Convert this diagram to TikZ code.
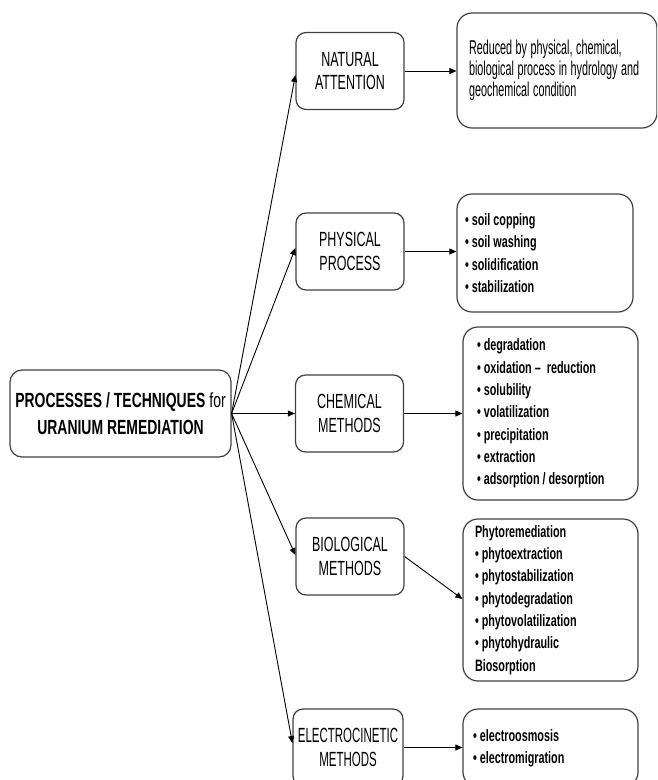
\documentclass[tikz,border=0pt]{standalone}
\usepackage{fontspec}
\usetikzlibrary{arrows.meta}
\setmainfont{Liberation Sans}
\newfontfamily\headfont[FakeStretch=0.68]{Liberation Sans}
\newfontfamily\stepfont[FakeStretch=0.61]{Liberation Sans}
\newfontfamily\narrowfont[FakeStretch=0.56]{Liberation Sans}
\newfontfamily\notefont[FakeStretch=0.54]{Liberation Sans}
\newfontfamily\listfont[FakeStretch=0.655]{Liberation Sans}
\definecolor{boxgray}{gray}{0.25}
\newcommand{\bu}{\textbullet\ }
\newcommand{\gap}[1]{\spaceskip=#1 plus 0.5pt minus 0.5pt\xspaceskip=#1\relax}

\begin{document}
\begin{tikzpicture}[x=1pt,y=-1pt,
  mainbox/.style={draw=boxgray,line width=1.2pt,rounded corners=12pt,align=center,
    minimum width=221pt,minimum height=87pt,inner sep=1pt,
    font=\headfont\fontsize{20.5}{26.7}\selectfont\gap{4pt}},
  stepbox/.style={draw=boxgray,line width=1.2pt,rounded corners=10pt,align=center,
    minimum width=108pt,minimum height=77pt,inner sep=1pt,
    font=\stepfont\fontsize{20.5}{23.3}\selectfont},
  notebox/.style={draw=boxgray,line width=1.2pt,rounded corners=15pt,align=left,
    inner ysep=4pt,font=\notefont\fontsize{20}{21.3}\selectfont,
    execute at begin node=\gap{3.5pt}},
  listbox/.style={draw=boxgray,line width=1.2pt,rounded corners=15pt,align=left,
    inner ysep=4pt,font=\listfont\fontsize{16.5}{22.3}\selectfont\bfseries,
    execute at begin node=\gap{3pt}},
  arr/.style={-{Triangle[length=7pt,width=6pt]},line width=0.9pt}]
  \useasboundingbox (0,0) rectangle (657,780);
  \clip (0,0) rectangle (657,780);
  % root
  \node[mainbox] (main) at (120.5,413.5)
    {\textbf{PROCESSES / TECHNIQUES} for\\\textbf{URANIUM REMEDIATION}};
  % methods
  \node[stepbox] (nat)  at (350,71)    {NATURAL\\ATTENTION};
  \node[stepbox] (phys) at (350,251.5) {PHYSICAL\\PROCESS};
  \node[stepbox] (chem) at (349.5,413.5) {CHEMICAL\\METHODS};
  \node[stepbox] (bio)  at (350,556.5) {BIOLOGICAL\\METHODS};
  \node[stepbox,minimum width=110pt,font=\narrowfont\fontsize{20.5}{23.3}\selectfont] (elec)
    at (348,747.5) {ELECTROCINETIC\\METHODS};
  % details
  \node[notebox,text width=176pt,inner xsep=12pt,minimum height=115pt] (natnote) at (557,70.5)
    {Reduced by physical, chemical,\\biological process in hydrology and\\geochemical condition};
  \node[listbox,text width=160pt,inner xsep=8pt,minimum height=118pt] (physnote) at (545,253)
    {\bu soil copping\\\bu soil washing\\\bu solidification\\\bu stabilization};
  \node[listbox,text width=147pt,inner xsep=14pt,minimum height=173pt] (chemnote) at (550.5,413.5)
    {\bu degradation\\\bu oxidation \textendash\ \ reduction\\\bu solubility\\\bu volatilization\\
     \bu precipitation\\\bu extraction\\\bu adsorption / desorption};
  \node[listbox,text width=151pt,inner xsep=12pt,minimum height=162pt] (bionote) at (550.5,600)
    {Phytoremediation\\\bu phytoextraction\\\bu phytostabilization\\\bu phytodegradation\\
     \bu phytovolatilization\\\bu phytohydraulic\\Biosorption};
  \node[listbox,text width=155pt,inner xsep=10pt,minimum height=78pt] (elecnote) at (550.5,748)
    {\bu electroosmosis\\\bu electromigration};
  % connectors
  \draw[arr] (main.east) -- ([yshift=-4pt]nat.west);
  \draw[arr] (main.east) -- ([yshift=3.5pt]phys.west);
  \draw[arr] (main.east) -- (chem.west);
  \draw[arr] (main.east) -- ([yshift=1.5pt]bio.west);
  \draw[arr] (main.east) -- ([yshift=4.5pt]elec.west);
  \draw[arr] (nat.east) -- (nat.east -| natnote.west);
  \draw[arr] (phys.east) -- (phys.east -| physnote.west);
  \draw[arr] (chem.east) -- (chemnote.west);
  \draw[arr] (bio.east) -- ([yshift=1pt]bionote.west);
  \draw[arr] (elec.east) -- (elec.east -| elecnote.west);
\end{tikzpicture}
\end{document}
